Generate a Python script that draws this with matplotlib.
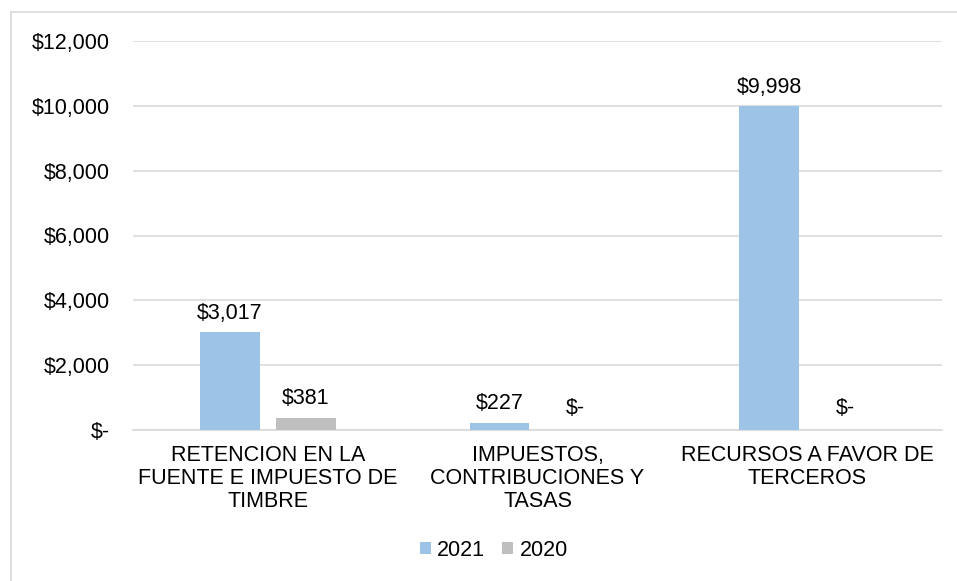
import matplotlib
matplotlib.use("Agg")
import matplotlib.pyplot as plt
from matplotlib.lines import Line2D
import numpy as np

categories = ["RETENCION EN LA\nFUENTE E IMPUESTO DE\nTIMBRE",
              "IMPUESTOS,\nCONTRIBUCIONES Y\nTASAS",
              "RECURSOS A FAVOR DE\nTERCEROS"]
series_names = ["2021", "2020"]
values_2021 = [3017, 227, 9998]
values_2020 = [381, 0, 0]
yticks = [0, 2000, 4000, 6000, 8000, 10000, 12000]

plt.rcParams['font.family'] = ['Liberation Sans', 'DejaVu Sans']
W, H = 957, 581
fig = plt.figure(figsize=(W/100, H/100), dpi=100)
ax = fig.add_axes([133/W, 1 - 430/H, (942-133)/W, (430-41)/H])

# outer chart border (top and left only visible)
fig.add_artist(Line2D([10.5/W, 10.5/W], [0, 1 - 11.5/H], transform=fig.transFigure,
                      color='#d9d9d9', linewidth=1.2))
fig.add_artist(Line2D([10.5/W, 1], [1 - 11.5/H, 1 - 11.5/H], transform=fig.transFigure,
                      color='#d9d9d9', linewidth=1.2))

FS = 15.5
x = np.arange(len(categories))
w = 0.222
off = 0.141
colors = ['#9DC3E6', '#BFBFBF']
b1 = ax.bar(x - off, values_2021, w, color=colors[0], label=series_names[0], zorder=3)
b2 = ax.bar(x + off, values_2020, w, color=colors[1], label=series_names[1], zorder=3)

def fmt(v):
    return "$-" if v == 0 else f"${v:,.0f}"

for bars, vals in ((b1, values_2021), (b2, values_2020)):
    for r, v in zip(bars, vals):
        ax.annotate(fmt(v), (r.get_x() + r.get_width()/2, v), xytext=(0, 6 if v else 8),
                    textcoords='offset points', ha='center', va='bottom', fontsize=FS, color='#000000')

ax.set_xlim(-0.5, 2.5)
ax.set_ylim(0, 12000)
ax.set_yticks(yticks)
ax.set_yticklabels([fmt(v) for v in yticks], fontsize=FS)
ax.set_xticks(x)
ax.set_xticklabels(categories, fontsize=FS, linespacing=1.12)
ax.tick_params(axis='both', length=0)
ax.tick_params(axis='y', pad=16.5)
ax.tick_params(axis='x', pad=11)
ax.grid(axis='y', color='#d9d9d9', linewidth=1.2, zorder=0)
for s in ['top', 'right', 'left']:
    ax.spines[s].set_visible(False)
ax.spines['bottom'].set_color('#d9d9d9')
ax.spines['bottom'].set_linewidth(1.2)

ax.legend(loc='center', bbox_to_anchor=(494/W, 1 - 550/H), bbox_transform=fig.transFigure,
          ncol=2, frameon=False, fontsize=FS, handlelength=0.5, handleheight=0.5,
          handletextpad=0.3, columnspacing=0.8)

fig.savefig("out.png", dpi=100)
